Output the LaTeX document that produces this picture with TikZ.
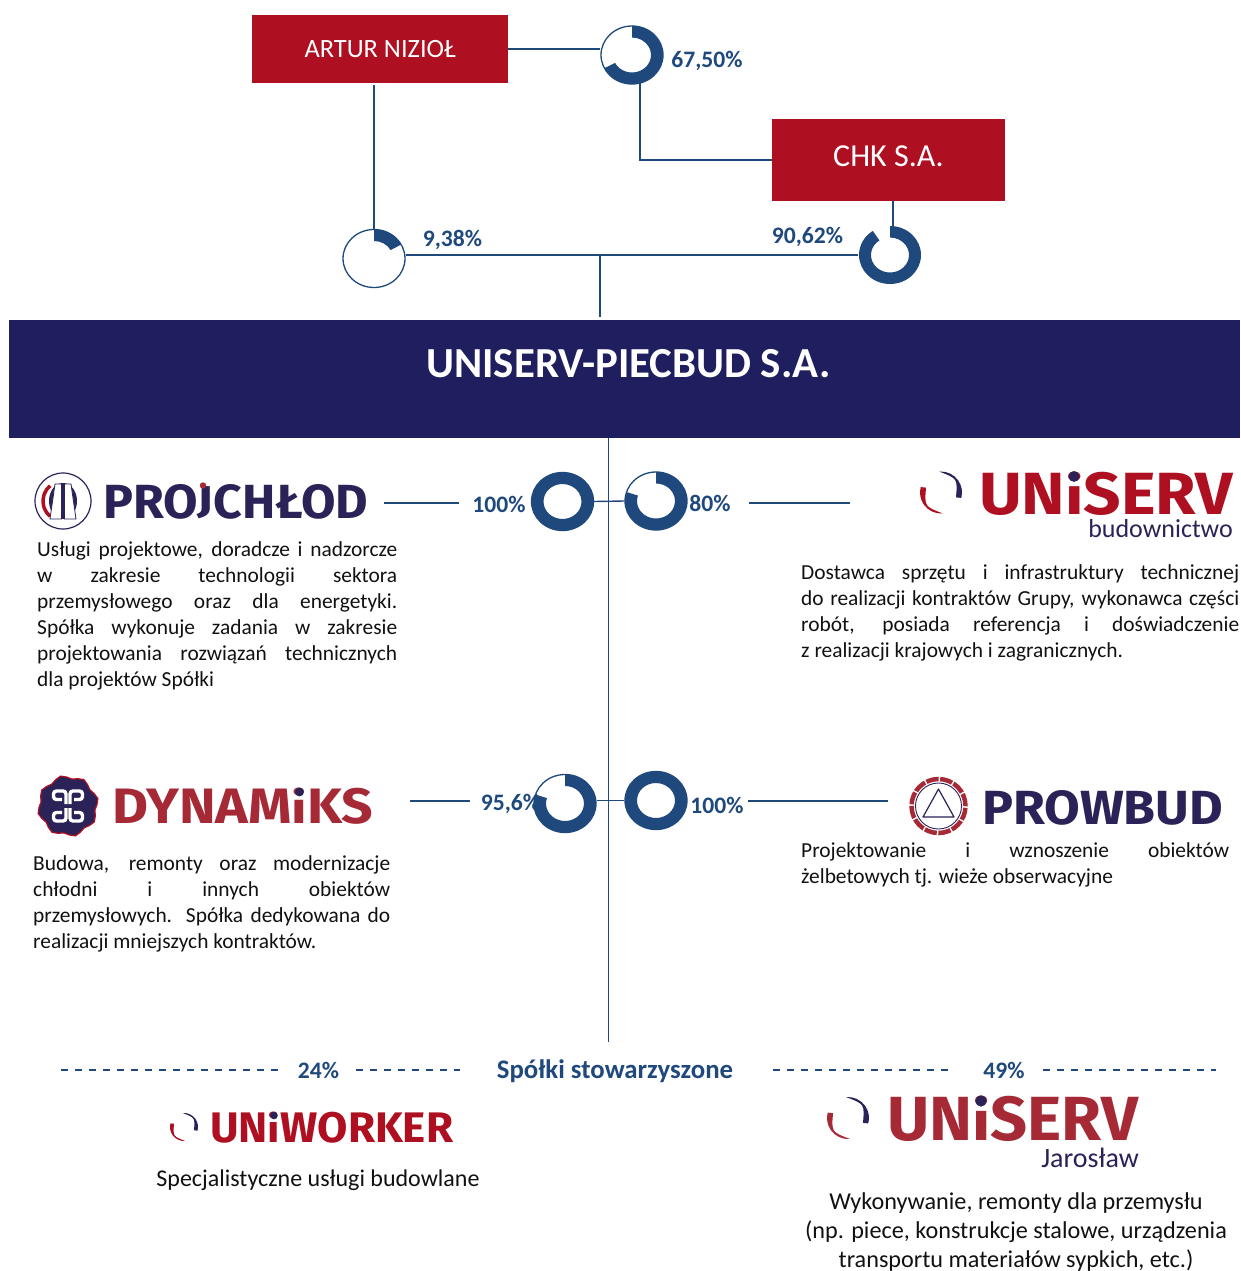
\documentclass[tikz,border=0pt]{standalone}
\usepackage{fontspec}
\setmainfont{Carlito}
\newfontfamily\logofont{Fira Sans}
\usetikzlibrary{shapes.geometric}
\definecolor{linkblue}{HTML}{1F497D}
\definecolor{boxred}{HTML}{AE1022}
\definecolor{bandnavy}{HTML}{1F1F5F}
\definecolor{logonavy}{HTML}{2B2358}
\definecolor{logored}{HTML}{A52A36}
\definecolor{txt}{HTML}{111111}
\tikzset{
  x=1pt,y=1pt,
  link/.style={draw=linkblue,line width=1.4pt},
  dashlink/.style={draw=linkblue,line width=1.2pt,dash pattern=on 7pt off 7pt},
  redbox/.style={fill=boxred,draw=none,text=white,inner sep=0pt},
  pct/.style={text=linkblue,font=\fontsize{23.6}{25}\selectfont\bfseries,inner sep=0pt},
  ringbase/.style={ellipse,inner sep=0pt,minimum width=62pt,minimum height=58pt,line width=1.3pt,fill=white},
  logo/.style={anchor=base west,inner sep=0pt,font=\logofont\bfseries},
  para/.style={anchor=north west,inner sep=0pt,text=txt},
  ctext/.style={inner sep=0pt,text=txt,align=center}
}
% name, cx, cy, percent, outline colour
\newcommand{\ringchart}[5]{%
  \node[ringbase,draw=#5] (#1) at (#2,#3) {};
  \pgfmathsetmacro{\ringend}{90-3.6*#4}
  \begin{scope}[shift={(#2,#3)}]
    \fill[linkblue] (90:31pt and 29pt)
      arc[start angle=90,end angle=\ringend,x radius=31pt,y radius=29pt]
      -- (\ringend:19pt and 17.5pt)
      arc[start angle=\ringend,end angle=90,x radius=19pt,y radius=17.5pt] -- cycle;
  \end{scope}
}
% cx, cy, r, red colour, navy colour
\newcommand{\swooshmark}[5]{%
  \begin{scope}[shift={(#1,#2)},x=#3pt,y=#3pt]
    \fill[#5] (95:1) arc[start angle=95,end angle=-15,radius=1] -- (-18:.75)
       .. controls (40:1.03) .. (95:1) -- cycle;
    \fill[#4] (275:1) arc[start angle=275,end angle=165,radius=1] -- (162:.75)
       .. controls (220:1.03) .. (275:1) -- cycle;
  \end{scope}
}
\newcommand{\loweri}{\scalebox{1}[.88]{i}}
\newcommand{\jpar}[2]{\parbox[t]{#1pt}{\fontsize{21.4}{26}\selectfont\tolerance=9999\hbadness=10000\hfuzz=5pt\parfillskip=0pt plus 1fil\lineskiplimit=-30pt #2\par}}
\begin{document}
\begin{tikzpicture}
\useasboundingbox (0,0) rectangle (1240,-1271);
\fill[white] (0,0) rectangle (1240,-1271);

% boxes
\node[redbox,minimum width=256pt,minimum height=68pt,font=\fontsize{26.4}{28}\selectfont] (artur) at (380,-49) {\raisebox{-3pt}{ARTUR NIZIOŁ}};
\node[redbox,minimum width=233pt,minimum height=82pt,font=\fontsize{32}{34}\selectfont] (chk) at (888.5,-160) {\raisebox{8pt}{CHK S.A.}};
\node[fill=bandnavy,inner sep=0pt,minimum width=1231pt,minimum height=118pt,text=white,font=\fontsize{42.8}{44}\selectfont\bfseries] (band) at (624.5,-379) {\raisebox{32pt}{\hspace{8pt}UNISERV-PIECBUD S.A.}};

% rings
\ringchart{rone}{632}{-55}{67.5}{linkblue}
\ringchart{rtwo}{374}{-258.5}{17}{linkblue}
\ringchart{rthree}{890}{-255}{90.62}{white}
\ringchart{rfour}{562.5}{-501.5}{100}{linkblue}
\ringchart{rfive}{656}{-501}{80}{linkblue}
\ringchart{rsix}{565}{-803.5}{80}{linkblue}
\ringchart{rseven}{656}{-800.5}{100}{linkblue}

% helper ends
\coordinate (aone) at (374,-85);
\coordinate (rob) at (640,-83);
\coordinate (ctop) at (893,-201);
\coordinate (cbot) at (893,-228);
\coordinate (jn) at (600,-255);
\coordinate (jnb) at (600,-317);
\coordinate (tra) at (608.5,-438);
\coordinate (trb) at (608.5,-1042);
\coordinate (pa) at (384,-503);
\coordinate (pb) at (459,-503);
\coordinate (ua) at (749,-503);
\coordinate (ub) at (850,-503);
\coordinate (da) at (410,-801);
\coordinate (db) at (470,-801);
\coordinate (wa) at (748,-801);
\coordinate (wb) at (888,-801);
\coordinate (aa) at (61,-1070);
\coordinate (ab) at (278,-1070);
\coordinate (ac) at (356,-1070);
\coordinate (ad) at (460,-1070);
\coordinate (ae) at (773,-1070);
\coordinate (af) at (950,-1070);
\coordinate (ag) at (1043,-1070);
\coordinate (ah) at (1216,-1070);

% connectors
\draw[link] (artur.east) -- (artur.east -| rone.west);
\draw[link] (rob) |- (chk.west);
\draw[link] (aone) -- (rtwo.north);
\draw[link] (ctop) -- (cbot);
\draw[link] (rtwo.east |- rthree.west) -- (rthree.west);
\draw[link] (jn) -- (jnb);
\draw[link] (tra) -- (trb);
\draw[link] (rfour.east) -- (rfive.west);
\draw[link] (rsix.east |- rseven.west) -- (rseven.west);
\draw[link] (pa) -- (pb);
\draw[link] (ua) -- (ub);
\draw[link] (da) -- (db);
\draw[link] (wa) -- (wb);
\draw[dashlink] (aa) -- (ab);
\draw[dashlink] (ac) -- (ad);
\draw[dashlink] (ae) -- (af);
\draw[dashlink] (ag) -- (ah);

% percentages
\node[pct] (lone) at (707,-61) {67,50\%};
\node[pct] (ltwo) at (452.5,-240) {9,38\%};
\node[pct] (lthree) at (807.5,-237) {90,62\%};
\node[pct] (lfour) at (499,-504.5) {100\%};
\node[pct] (lfive) at (710,-503) {80\%};
\node[pct] (lsix) at (510.5,-804) {95,6\%};
\node[pct] (lseven) at (717,-805) {100\%};
\node[pct] (lassoca) at (318.5,-1070.5) {24\%};
\node[pct] (lassocb) at (1004,-1070.5) {49\%};
\node[text=linkblue,inner sep=0pt,font=\fontsize{26.8}{28}\selectfont\bfseries] (assoc) at (615,-1071) {Spółki stowarzyszone};

% PROJCHLOD logo
\node[logo,text=logonavy] (proj) at (103,-518) {\resizebox{265pt}{34pt}{PRO\raisebox{1.2pt}{\scalebox{1}[.78]{J}}CHŁOD}};
\fill[logored] (203,-485.5) circle (3.2pt);
\draw[logonavy,line width=1.2pt,fill=white] (63,-501) circle (28pt);
\fill[logonavy] (63,-501) ellipse (14pt and 18pt);
\draw[boxred,line width=3.5pt] (63,-501) ++(130:20pt) arc[start angle=130,end angle=230,radius=20pt];
\draw[logonavy,line width=.8pt,fill=white] (50,-519) -- (55,-484) -- (61.5,-484) -- (61.5,-519) -- cycle;
\draw[logonavy,line width=.8pt,fill=white] (76,-519) -- (71,-484) -- (64.5,-484) -- (64.5,-519) -- cycle;

% UNISERV budownictwo logo
\swooshmark{941}{-492.5}{21}{boxred}{logonavy}
\node[logo,text=boxred] (ubud) at (979,-514) {\resizebox{254pt}{42.5pt}{UN\loweri SERV}};
\fill[logonavy] (1074,-476.5) circle (5.4pt);
\node[anchor=base east,inner sep=0pt,text=logonavy,font=\fontsize{26}{28}\selectfont] (ubudb) at (1233,-537) {budownictwo};

% DYNAMIKS logo
\begin{scope}[shift={(68,-806)}]
  \fill[logonavy,draw=boxred,line width=1.2pt] plot[samples at={0,11.25,...,348.75}] (\x+14:{29+1.8*cos(8*\x)}) -- cycle;
  \foreach \sx/\sy in {1/1,-1/1,1/-1,-1/-1}{
    \begin{scope}[xscale=\sx,yscale=\sy]
      \draw[white,line width=3.4pt,rounded corners=3pt] (2,2) -- (2,15) -- (14.5,15) -- (14.5,6.5) -- (6,6.5);
    \end{scope}
  }
\end{scope}
\node[logo,text=logored] (dyn) at (112,-823) {\resizebox{261pt}{35.5pt}{DYNAM\loweri KS}};
\fill[logonavy] (299.5,-792) circle (4.4pt);

% PROWBUD logo
\draw[logored,line width=4.5pt,dash pattern=on 12.5pt off 1.6pt] (938.5,-806) circle (27pt);
\draw[logonavy,line width=.9pt] (938.5,-806) circle (23pt);
\draw[logonavy,line width=1.2pt,line join=round,fill=white] (938.5,-789) -- (954,-817) -- (923,-817) -- cycle;
\node[logo,text=logonavy] (prow) at (982,-824) {\resizebox{241pt}{34pt}{PROWBUD}};

% UNIWORKER logo
\swooshmark{184}{-1127}{14}{boxred}{logonavy}
\node[logo,text=boxred] (uwork) at (210,-1142) {\resizebox{243pt}{30.5pt}{UN\loweri WORKER}};
\fill[logonavy] (274,-1115.5) circle (3.8pt);

% UNISERV Jaroslaw logo
\swooshmark{848}{-1118}{21}{logored}{logonavy}
\node[logo,text=logored] (ujar) at (887,-1140) {\resizebox{251pt}{44.5pt}{UN\loweri SERV}};
\fill[logonavy] (981,-1101) circle (5.6pt);
\node[anchor=base east,inner sep=0pt,text=logonavy,font=\fontsize{28}{30}\selectfont] (ujarb) at (1139,-1167) {Jarosław};

% paragraphs
\node[para] (tproj) at (37,-541) {\jpar{360}{Usługi projektowe, doradcze i nadzorcze\linebreak w zakresie technologii sektora\linebreak przemysłowego oraz dla energetyki.\linebreak Spółka wykonuje zadania w zakresie\linebreak projektowania rozwiązań technicznych\linebreak dla projektów Spółki}};
\node[para] (tubud) at (801,-564) {\jpar{438}{Dostawca sprzętu i infrastruktury technicznej\linebreak do realizacji kontraktów Grupy, wykonawca części\linebreak robót, posiada referencja i doświadczenie\linebreak z realizacji krajowych i zagranicznych.}};
\node[para] (tdyn) at (33,-855) {\jpar{357}{Budowa, remonty oraz modernizacje\linebreak chłodni i innych obiektów\linebreak przemysłowych. Spółka dedykowana do\linebreak realizacji mniejszych kontraktów.}};
\node[para] (tprow) at (801,-842) {\jpar{428}{Projektowanie i wznoszenie obiektów\linebreak żelbetowych tj. wieże obserwacyjne}};
\node[ctext,font=\fontsize{24}{26}\selectfont] (twork) at (318,-1180) {Specjalistyczne usługi budowlane};
\node[ctext,font=\fontsize{24.2}{29}\selectfont,anchor=north] (tjar) at (1016,-1192) {Wykonywanie, remonty dla przemysłu\\(np. piece, konstrukcje stalowe, urządzenia\\transportu materiałów sypkich, etc.)};
\end{tikzpicture}
\end{document}
